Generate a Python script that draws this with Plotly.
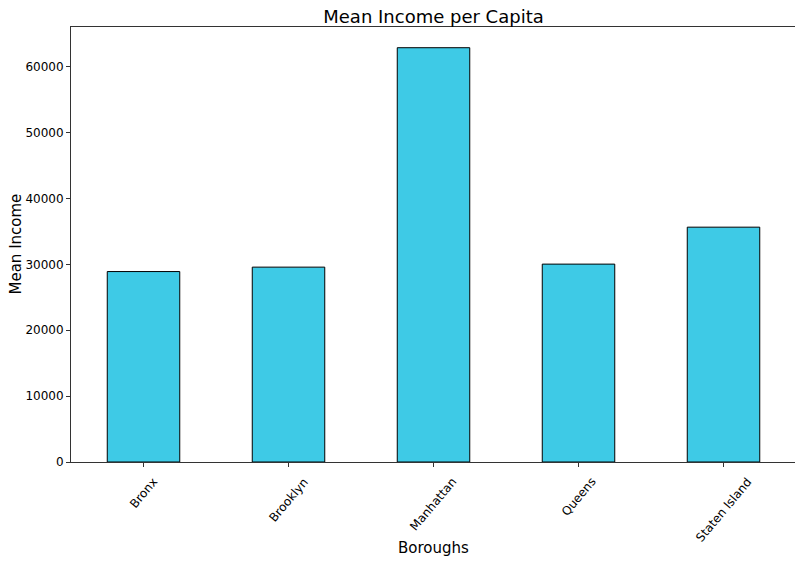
import plotly.graph_objects as go

# dados
boroughs = ['Bronx', 'Brooklyn', 'Manhattan', 'Queens', 'Staten Island']
mean_income = [28920, 29590, 62910, 30050, 35660]

fig = go.Figure(go.Bar(
    x=boroughs,
    y=mean_income,
    marker=dict(color='#3ECAE6', line=dict(color='black', width=1)),
))

# a página tem 8px de margem no body, por isso a figura é um pouco menor
fig.update_layout(
    width=795, height=556,
    margin=dict(l=63, r=7, t=19, b=102, autoexpand=False),
    paper_bgcolor='white', plot_bgcolor='white',
    font=dict(family='DejaVu Sans', size=12, color='black'),
    title=dict(text='Mean Income per Capita', x=0.5, xref='paper', xanchor='center',
               y=1 - 9 / 556, yref='container', yanchor='middle', font=dict(size=18)),
    bargap=0.5,
    showlegend=False,
)

# rótulos do eixo x girados e centrados no tick (como no matplotlib)
for b in boroughs:
    fig.add_annotation(text=b, x=b, xref='x', y=0, yref='y', yshift=-10,
                       xanchor='center', yanchor='top', textangle=-50,
                       showarrow=False, font=dict(size=12))

# títulos dos eixos como anotações (posição em fração da área do gráfico)
fig.add_annotation(text='Boroughs', x=0.5, xref='paper', y=-(548 - 462) / 435, yref='paper',
                   yanchor='middle', showarrow=False, font=dict(size=15))
fig.add_annotation(text='Mean Income', x=-(71 - 15) / 725, xref='paper', y=0.5, yref='paper',
                   xanchor='center', textangle=-90, showarrow=False, font=dict(size=15))

fig.update_xaxes(
    range=[-0.5, 4.5], showticklabels=False, automargin=False,
    showline=True, mirror=True, linecolor='#333', linewidth=1,
    ticks='outside', ticklen=4, tickcolor='#333', showgrid=False,
)
fig.update_yaxes(
    range=[0, max(mean_income) * 1.05], dtick=10000, tickformat='d', automargin=False,
    showline=True, mirror=True, linecolor='#333', linewidth=1,
    ticks='outside', ticklen=4, tickcolor='#333', showgrid=False, zeroline=False,
)

fig.write_html('out.html')
